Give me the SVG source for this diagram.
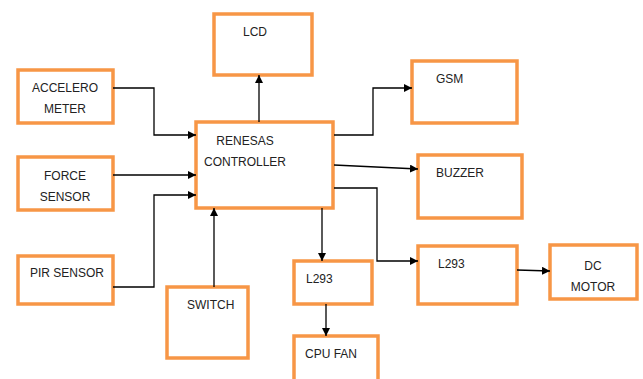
<svg xmlns="http://www.w3.org/2000/svg" width="643" height="379" viewBox="0 0 643 379">
<style>
.box{fill:#fff;stroke:#F79646;stroke-width:3.5}
.t{font-family:"Liberation Sans",Arial,sans-serif;font-size:12px;fill:#222}
.c{text-anchor:middle}
.ln{fill:none;stroke:#000;stroke-width:1.3;marker-end:url(#ah)}
</style>
<defs>
<marker id="ah" viewBox="0 0 10 10" refX="10" refY="5" markerWidth="8" markerHeight="8" markerUnits="userSpaceOnUse" orient="auto">
<path d="M0,0 L10,5 L0,10 z" fill="#000"/>
</marker>
</defs>
<rect width="643" height="379" fill="#fff"/>
<g id="lcd"><rect class="box" x="214" y="14" width="98" height="61"/><text class="t" x="243" y="36">LCD</text></g>
<g id="accelerometer"><rect class="box" x="18" y="70" width="95" height="53"/><text class="t c" x="65" y="92">ACCELERO</text><text class="t c" x="65" y="113">METER</text></g>
<g id="controller"><rect class="box" x="196" y="122" width="137" height="86"/><text class="t c" x="245" y="145">RENESAS</text><text class="t c" x="245" y="166">CONTROLLER</text></g>
<g id="force"><rect class="box" x="18" y="157" width="95" height="53"/><text class="t c" x="65" y="180">FORCE</text><text class="t c" x="65" y="201">SENSOR</text></g>
<g id="pir"><rect class="box" x="18" y="256" width="95" height="48"/><text class="t" x="30" y="277">PIR SENSOR</text></g>
<g id="switch"><rect class="box" x="167" y="287" width="81" height="71"/><text class="t" x="187" y="309">SWITCH</text></g>
<g id="l293a"><rect class="box" x="294" y="261" width="78" height="43"/><text class="t" x="306" y="283">L293</text></g>
<g id="cpufan"><rect class="box" x="294" y="336" width="84" height="50"/><text class="t" x="305" y="358">CPU FAN</text></g>
<g id="gsm"><rect class="box" x="412" y="61" width="105" height="62"/><text class="t" x="436" y="83">GSM</text></g>
<g id="buzzer"><rect class="box" x="418" y="155" width="104" height="63"/><text class="t" x="436" y="177">BUZZER</text></g>
<g id="l293b"><rect class="box" x="418" y="246" width="99" height="58"/><text class="t" x="438" y="268">L293</text></g>
<g id="dcmotor"><rect class="box" x="550" y="245" width="87" height="54"/><text class="t c" x="593" y="270">DC</text><text class="t c" x="593" y="291">MOTOR</text></g>
<g id="connectors">
<path class="ln" d="M113,88 H154 V135 H196"/>
<path class="ln" d="M113,175 H196"/>
<path class="ln" d="M113,287 H154 V195 H196"/>
<path class="ln" d="M214,287 V208"/>
<path class="ln" d="M259,122 V75"/>
<path class="ln" d="M334,135 H373 V88 H412"/>
<path class="ln" d="M334,165 L418,169"/>
<path class="ln" d="M334,188 H377 V261 H418"/>
<path class="ln" d="M322,208 V261"/>
<path class="ln" d="M326,304 V336"/>
<path class="ln" d="M517,270 L550,271"/>
</g>
</svg>
